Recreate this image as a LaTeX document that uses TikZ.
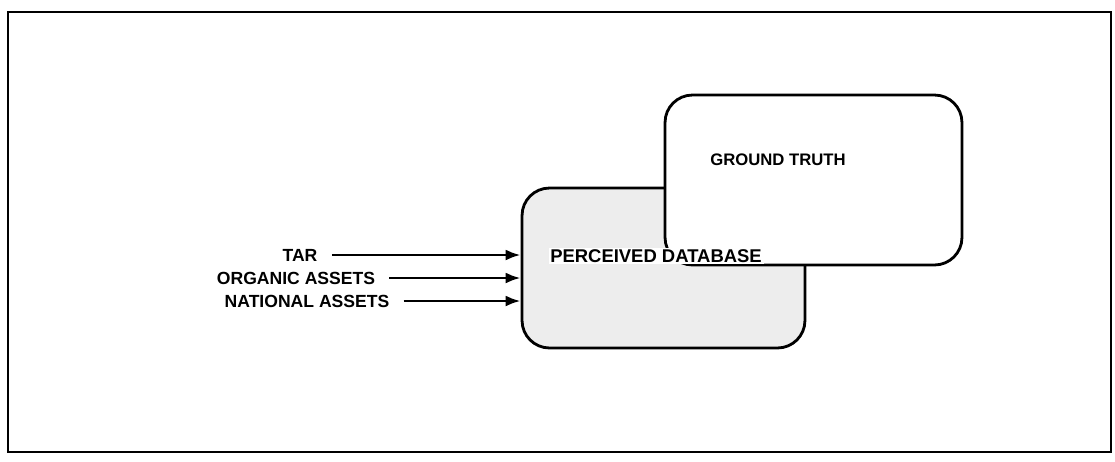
\documentclass[tikz,border=0pt]{standalone}
\usepackage{fontspec}
\setmainfont{Liberation Sans}
\usetikzlibrary{arrows.meta, positioning, calc}

\begin{document}
\begin{tikzpicture}[
    x=0.02cm, y=-0.02cm,
    box/.style={rectangle, draw=black, line width=1.6pt, rounded corners=0.55cm},
    lbl/.style={font=\fontsize{10}{12}\selectfont\bfseries, inner sep=1pt},
    feed/.style={-{Latex[length=3mm,width=2.2mm]}, line width=1.6pt, shorten <=7pt}
]
\useasboundingbox (0,0) rectangle (1115,461);

% -- FRAME --
\draw[line width=1.2pt] (8,12) rectangle (1111,452);

% -- BOXES --
\node[box, fill=gray!14, minimum width=5.66cm, minimum height=3.2cm] (pd) at (663.5,268) {};
\node[box, fill=white, minimum width=5.94cm, minimum height=3.4cm] (gt) at (813.5,180) {};

\node[lbl, font=\fontsize{9.5}{12}\selectfont\bfseries] (gtlbl) at (778,160) {GROUND TRUTH};
\node[lbl, fill=white, font=\fontsize{10.5}{12}\selectfont\bfseries] (pdlbl) at (656,256) {PERCEIVED DATABASE};

% -- INPUTS --
\node[lbl] (tar) at (300,255) {TAR};
\node[lbl] (org) at (296,278) {ORGANIC ASSETS};
\node[lbl] (nat) at (307,301) {NATIONAL ASSETS};

\draw[feed] (tar.east) -- (tar.east -| pd.west);
\draw[feed] (org.east) -- (org.east -| pd.west);
\draw[feed] (nat.east) -- (nat.east -| pd.west);

\end{tikzpicture}
\end{document}
